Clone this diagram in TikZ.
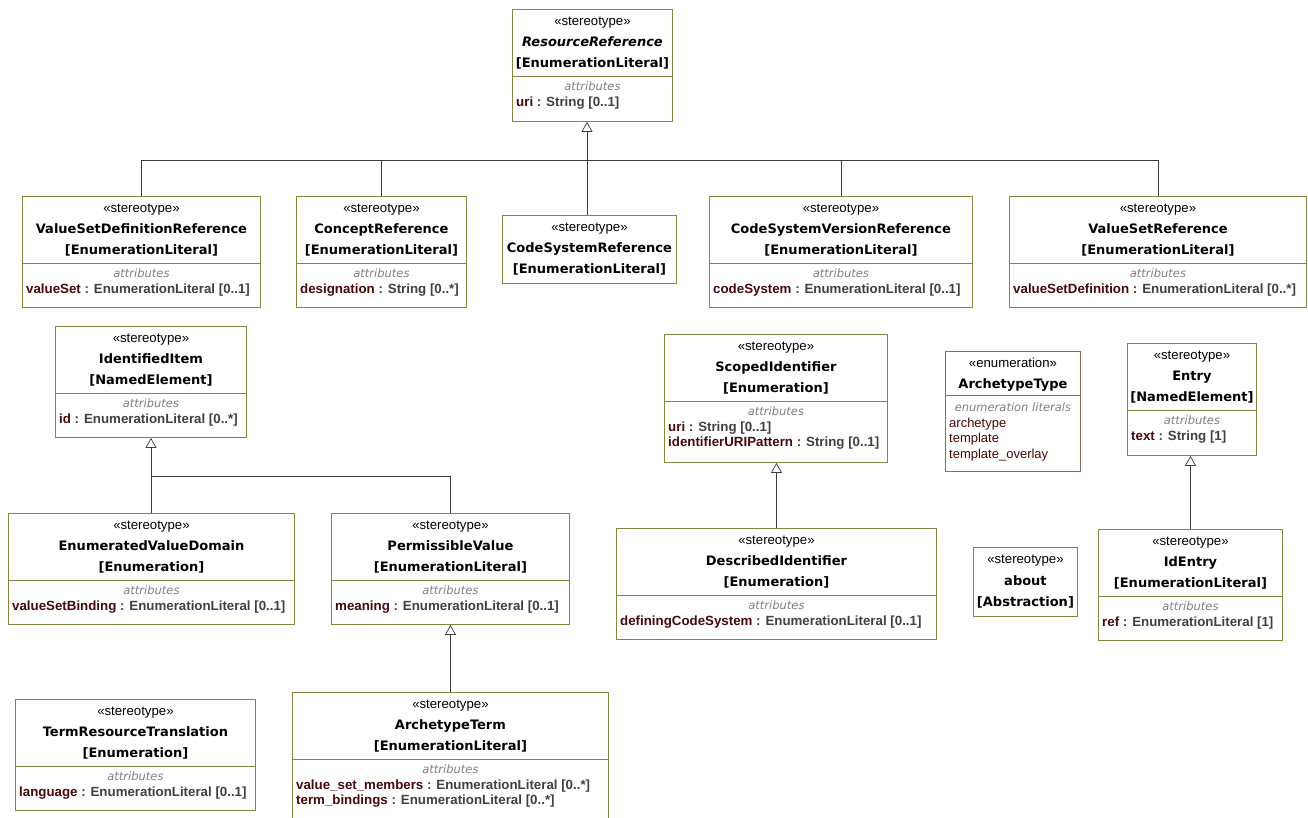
\documentclass[tikz,border=0pt]{standalone}
\usepackage{fontspec}
\setmainfont{Liberation Sans}
\newfontfamily\nmfont{DejaVu Sans}
\usetikzlibrary{arrows.meta}
\definecolor{clsline}{RGB}{133,133,62}
\definecolor{enmline}{RGB}{140,108,92}
\definecolor{atname}{RGB}{72,8,8}
\definecolor{typegrey}{RGB}{64,64,64}
\definecolor{atgrey}{RGB}{128,128,128}
\definecolor{linegrey}{RGB}{60,60,60}
\tikzset{
  cls/.style={draw=clsline, fill=white, line width=0.9pt, inner sep=0pt, anchor=north west},
  enm/.style={cls, draw=enmline},
  st/.style={anchor=base, inner sep=0pt, font=\fontsize{13.2}{15}\selectfont},
  nm/.style={anchor=base, inner sep=0pt, font=\nmfont\bfseries\fontsize{13}{15}\selectfont},
  atl/.style={anchor=base, inner sep=0pt, text=atgrey, font=\nmfont\itshape\fontsize{11.5}{13}\selectfont},
  attr/.style={anchor=base west, inner sep=0pt, text=typegrey, font=\bfseries\fontsize{13.3}{15}\selectfont},
  lit/.style={anchor=base west, inner sep=0pt, text=atname, font=\fontsize{13}{15}\selectfont},
  sep/.style={draw=clsline, line width=0.9pt},
  gen/.style={-{Triangle[open,length=10pt,width=11pt]}, draw=linegrey, line width=0.7pt},
  lnk/.style={draw=linegrey, line width=0.7pt}
}
\newcommand{\an}[1]{\textcolor{atname}{#1}}
\begin{document}
\begin{tikzpicture}[x=1pt,y=-1pt]
\useasboundingbox (0,0) rectangle (1308,818);

\node[cls, minimum width=160pt, minimum height=112pt] (rr) at (512,9) {};
\node[st] (rr-s) at ([yshift=-16.5pt]rr.north) {«stereotype»};
\node[nm, font=\nmfont\bfseries\itshape\fontsize{13}{15}\selectfont] (rr-n) at ([yshift=-37.5pt]rr.north) {ResourceReference};
\node[nm] (rr-b) at ([yshift=-58.5pt]rr.north) {[EnumerationLiteral]};
\draw[sep] ([yshift=-67pt]rr.north west) -- ([yshift=-67pt]rr.north east);
\node[atl] (rr-l) at ([yshift=-81.5pt]rr.north) {attributes};
\node[attr] (rr-a) at ([xshift=4pt,yshift=-97.5pt]rr.north west) {\an{uri} : String [0..1]};

\node[cls, minimum width=238pt, minimum height=111pt] (vsdr) at (22,196) {};
\node[st] (vsdr-s) at ([yshift=-16.5pt]vsdr.north) {«stereotype»};
\node[nm] (vsdr-n) at ([yshift=-37.5pt]vsdr.north) {ValueSetDefinitionReference};
\node[nm] (vsdr-b) at ([yshift=-58.5pt]vsdr.north) {[EnumerationLiteral]};
\draw[sep] ([yshift=-67pt]vsdr.north west) -- ([yshift=-67pt]vsdr.north east);
\node[atl] (vsdr-l) at ([yshift=-81.5pt]vsdr.north) {attributes};
\node[attr] (vsdr-a) at ([xshift=4pt,yshift=-97.5pt]vsdr.north west) {\an{valueSet} : EnumerationLiteral [0..1]};

\node[cls, minimum width=170pt, minimum height=111pt] (cr) at (296,196) {};
\node[st] (cr-s) at ([yshift=-16.5pt]cr.north) {«stereotype»};
\node[nm] (cr-n) at ([yshift=-37.5pt]cr.north) {ConceptReference};
\node[nm] (cr-b) at ([yshift=-58.5pt]cr.north) {[EnumerationLiteral]};
\draw[sep] ([yshift=-67pt]cr.north west) -- ([yshift=-67pt]cr.north east);
\node[atl] (cr-l) at ([yshift=-81.5pt]cr.north) {attributes};
\node[attr] (cr-a) at ([xshift=4pt,yshift=-97.5pt]cr.north west) {\an{designation} : String [0..*]};

\node[cls, minimum width=174pt, minimum height=68pt] (csr) at (502,215) {};
\node[st] (csr-s) at ([yshift=-16.5pt]csr.north) {«stereotype»};
\node[nm] (csr-n) at ([yshift=-37.5pt]csr.north) {CodeSystemReference};
\node[nm] (csr-b) at ([yshift=-58.5pt]csr.north) {[EnumerationLiteral]};

\node[cls, minimum width=263pt, minimum height=111pt] (csvr) at (709,196) {};
\node[st] (csvr-s) at ([yshift=-16.5pt]csvr.north) {«stereotype»};
\node[nm] (csvr-n) at ([yshift=-37.5pt]csvr.north) {CodeSystemVersionReference};
\node[nm] (csvr-b) at ([yshift=-58.5pt]csvr.north) {[EnumerationLiteral]};
\draw[sep] ([yshift=-67pt]csvr.north west) -- ([yshift=-67pt]csvr.north east);
\node[atl] (csvr-l) at ([yshift=-81.5pt]csvr.north) {attributes};
\node[attr] (csvr-a) at ([xshift=4pt,yshift=-97.5pt]csvr.north west) {\an{codeSystem} : EnumerationLiteral [0..1]};

\node[cls, minimum width=297pt, minimum height=111pt] (vsr) at (1009,196) {};
\node[st] (vsr-s) at ([yshift=-16.5pt]vsr.north) {«stereotype»};
\node[nm] (vsr-n) at ([yshift=-37.5pt]vsr.north) {ValueSetReference};
\node[nm] (vsr-b) at ([yshift=-58.5pt]vsr.north) {[EnumerationLiteral]};
\draw[sep] ([yshift=-67pt]vsr.north west) -- ([yshift=-67pt]vsr.north east);
\node[atl] (vsr-l) at ([yshift=-81.5pt]vsr.north) {attributes};
\node[attr] (vsr-a) at ([xshift=4pt,yshift=-97.5pt]vsr.north west) {\an{valueSetDefinition} : EnumerationLiteral [0..*]};

\node[cls, minimum width=191pt, minimum height=111pt] (ii) at (55,326) {};
\node[st] (ii-s) at ([yshift=-16.5pt]ii.north) {«stereotype»};
\node[nm] (ii-n) at ([yshift=-37.5pt]ii.north) {IdentifiedItem};
\node[nm] (ii-b) at ([yshift=-58.5pt]ii.north) {[NamedElement]};
\draw[sep] ([yshift=-67pt]ii.north west) -- ([yshift=-67pt]ii.north east);
\node[atl] (ii-l) at ([yshift=-81.5pt]ii.north) {attributes};
\node[attr] (ii-a) at ([xshift=4pt,yshift=-97.5pt]ii.north west) {\an{id} : EnumerationLiteral [0..*]};

\node[cls, minimum width=286pt, minimum height=111pt] (evd) at (8,513) {};
\node[st] (evd-s) at ([yshift=-16.5pt]evd.north) {«stereotype»};
\node[nm] (evd-n) at ([yshift=-37.5pt]evd.north) {EnumeratedValueDomain};
\node[nm] (evd-b) at ([yshift=-58.5pt]evd.north) {[Enumeration]};
\draw[sep] ([yshift=-67pt]evd.north west) -- ([yshift=-67pt]evd.north east);
\node[atl] (evd-l) at ([yshift=-81.5pt]evd.north) {attributes};
\node[attr] (evd-a) at ([xshift=4pt,yshift=-97.5pt]evd.north west) {\an{valueSetBinding} : EnumerationLiteral [0..1]};

\node[cls, minimum width=238pt, minimum height=111pt] (pv) at (331,513) {};
\node[st] (pv-s) at ([yshift=-16.5pt]pv.north) {«stereotype»};
\node[nm] (pv-n) at ([yshift=-37.5pt]pv.north) {PermissibleValue};
\node[nm] (pv-b) at ([yshift=-58.5pt]pv.north) {[EnumerationLiteral]};
\draw[sep] ([yshift=-67pt]pv.north west) -- ([yshift=-67pt]pv.north east);
\node[atl] (pv-l) at ([yshift=-81.5pt]pv.north) {attributes};
\node[attr] (pv-a) at ([xshift=4pt,yshift=-97.5pt]pv.north west) {\an{meaning} : EnumerationLiteral [0..1]};

\node[cls, minimum width=240pt, minimum height=111pt] (trt) at (15,699) {};
\node[st] (trt-s) at ([yshift=-16.5pt]trt.north) {«stereotype»};
\node[nm] (trt-n) at ([yshift=-37.5pt]trt.north) {TermResourceTranslation};
\node[nm] (trt-b) at ([yshift=-58.5pt]trt.north) {[Enumeration]};
\draw[sep] ([yshift=-67pt]trt.north west) -- ([yshift=-67pt]trt.north east);
\node[atl] (trt-l) at ([yshift=-81.5pt]trt.north) {attributes};
\node[attr] (trt-a) at ([xshift=4pt,yshift=-97.5pt]trt.north west) {\an{language} : EnumerationLiteral [0..1]};

\node[cls, minimum width=316pt, minimum height=132pt] (atm) at (292,692) {};
\node[st] (atm-s) at ([yshift=-16.5pt]atm.north) {«stereotype»};
\node[nm] (atm-n) at ([yshift=-37.5pt]atm.north) {ArchetypeTerm};
\node[nm] (atm-b) at ([yshift=-58.5pt]atm.north) {[EnumerationLiteral]};
\draw[sep] ([yshift=-67pt]atm.north west) -- ([yshift=-67pt]atm.north east);
\node[atl] (atm-l) at ([yshift=-81.5pt]atm.north) {attributes};
\node[attr] (atm-a) at ([xshift=4pt,yshift=-97.5pt]atm.north west) {\an{value\_set\_members} : EnumerationLiteral [0..*]};
\node[attr] (atm-c) at ([xshift=4pt,yshift=-112.5pt]atm.north west) {\an{term\_bindings} : EnumerationLiteral [0..*]};

\node[cls, minimum width=223pt, minimum height=128pt] (si) at (664,334) {};
\node[st] (si-s) at ([yshift=-16.5pt]si.north) {«stereotype»};
\node[nm] (si-n) at ([yshift=-37.5pt]si.north) {ScopedIdentifier};
\node[nm] (si-b) at ([yshift=-58.5pt]si.north) {[Enumeration]};
\draw[sep] ([yshift=-67pt]si.north west) -- ([yshift=-67pt]si.north east);
\node[atl] (si-l) at ([yshift=-81.5pt]si.north) {attributes};
\node[attr] (si-a) at ([xshift=4pt,yshift=-97.5pt]si.north west) {\an{uri} : String [0..1]};
\node[attr] (si-c) at ([xshift=4pt,yshift=-112.5pt]si.north west) {\an{identifierURIPattern} : String [0..1]};

\node[cls, minimum width=320pt, minimum height=111pt] (di) at (616,528) {};
\node[st] (di-s) at ([yshift=-16.5pt]di.north) {«stereotype»};
\node[nm] (di-n) at ([yshift=-37.5pt]di.north) {DescribedIdentifier};
\node[nm] (di-b) at ([yshift=-58.5pt]di.north) {[Enumeration]};
\draw[sep] ([yshift=-67pt]di.north west) -- ([yshift=-67pt]di.north east);
\node[atl] (di-l) at ([yshift=-81.5pt]di.north) {attributes};
\node[attr] (di-a) at ([xshift=4pt,yshift=-97.5pt]di.north west) {\an{definingCodeSystem} : EnumerationLiteral [0..1]};

\node[enm, minimum width=135pt, minimum height=120pt] (aty) at (945,351) {};
\node[st] (aty-s) at ([yshift=-16pt]aty.north) {«enumeration»};
\node[nm] (aty-n) at ([yshift=-37pt]aty.north) {ArchetypeType};
\draw[sep, draw=enmline] ([yshift=-44pt]aty.north west) -- ([yshift=-44pt]aty.north east);
\node[atl] (aty-l) at ([yshift=-60pt]aty.north) {enumeration literals};
\node[lit] (aty-a) at ([xshift=4pt,yshift=-76pt]aty.north west) {archetype};
\node[lit] (aty-b) at ([xshift=4pt,yshift=-91.5pt]aty.north west) {template};
\node[lit] (aty-c) at ([xshift=4pt,yshift=-107pt]aty.north west) {template\_overlay};

\node[cls, minimum width=104pt, minimum height=69pt] (ab) at (973,547) {};
\node[st] (ab-s) at ([yshift=-16pt]ab.north) {«stereotype»};
\node[nm] (ab-n) at ([yshift=-38pt]ab.north) {about};
\node[nm] (ab-b) at ([yshift=-59pt]ab.north) {[Abstraction]};

\node[cls, minimum width=129pt, minimum height=112pt] (en) at (1127,343) {};
\node[st] (en-s) at ([yshift=-16.5pt]en.north) {«stereotype»};
\node[nm] (en-n) at ([yshift=-37.5pt]en.north) {Entry};
\node[nm] (en-b) at ([yshift=-58.5pt]en.north) {[NamedElement]};
\draw[sep] ([yshift=-67pt]en.north west) -- ([yshift=-67pt]en.north east);
\node[atl] (en-l) at ([yshift=-81.5pt]en.north) {attributes};
\node[attr] (en-a) at ([xshift=4pt,yshift=-97.5pt]en.north west) {\an{text} : String [1]};

\node[cls, minimum width=184pt, minimum height=111pt] (ide) at (1098,529) {};
\node[st] (ide-s) at ([yshift=-16.5pt]ide.north) {«stereotype»};
\node[nm] (ide-n) at ([yshift=-37.5pt]ide.north) {IdEntry};
\node[nm] (ide-b) at ([yshift=-58.5pt]ide.north) {[EnumerationLiteral]};
\draw[sep] ([yshift=-67pt]ide.north west) -- ([yshift=-67pt]ide.north east);
\node[atl] (ide-l) at ([yshift=-81.5pt]ide.north) {attributes};
\node[attr] (ide-a) at ([xshift=4pt,yshift=-97.5pt]ide.north west) {\an{ref} : EnumerationLiteral [1]};

\coordinate (rrj) at (587,160);
\coordinate (iij) at (151,476);
\draw[gen] (csr.north -| rrj) -- (rr.south -| rrj);
\draw[lnk] (vsdr.north) |- (rrj);
\draw[lnk] (cr.north) |- (rrj);
\draw[lnk] (csvr.north) |- (rrj);
\draw[lnk] (vsr.north) |- (rrj);
\draw[gen] (evd.north -| iij) -- (ii.south -| iij);
\draw[lnk] (pv.north) |- (iij);
\draw[gen] (atm.north) -- (pv.south);
\draw[gen] (di.north) -- (si.south -| di.north);
\draw[gen] (ide.north) -- (en.south -| ide.north);
\end{tikzpicture}
\end{document}
